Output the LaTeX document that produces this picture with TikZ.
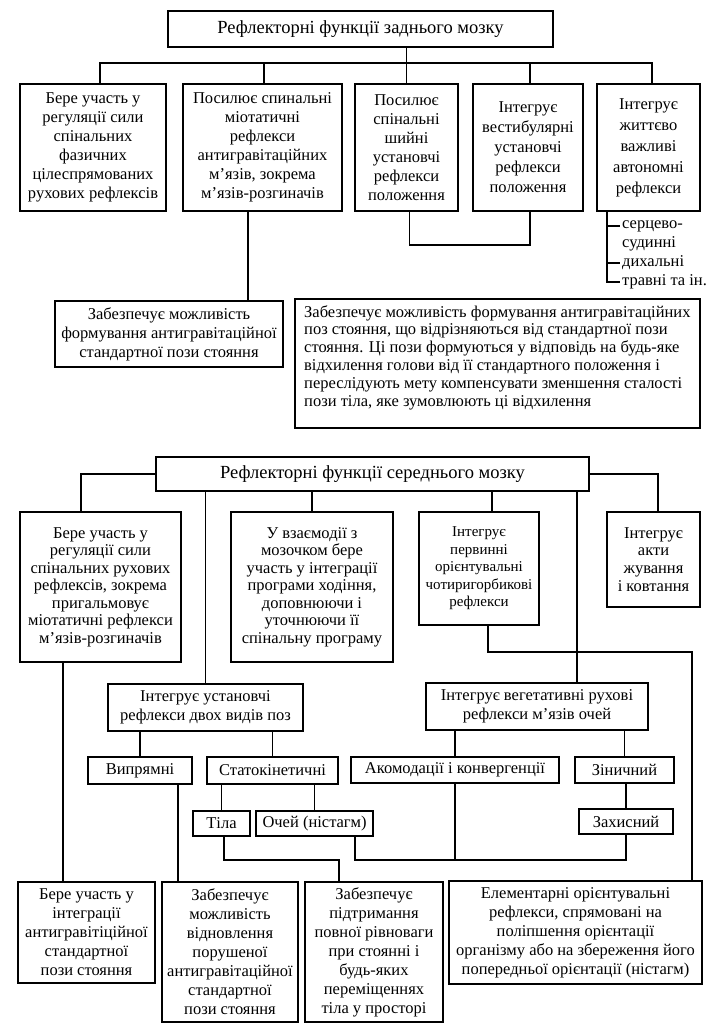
\documentclass[tikz,border=0pt]{standalone}
\usepackage{fontspec}
\setmainfont{Liberation Serif}
\newcommand\fsz{\fontsize{16.5}{19}\selectfont}
\newcommand\tsz{\fontsize{18.5}{20}\selectfont}
\tikzset{
  bx/.style={draw, line width=1.8pt, inner sep=0pt, outer sep=0pt, align=center, font=\fsz},
  ln/.style={line width=1.8pt},
  lbl/.style={inner sep=0pt, anchor=west, font=\fsz}
}
\newcommand\mkbox[7][]{\node[bx,minimum width={#5-#3},minimum height={#6-#4},#1] (#2) at ({(#3+#5)/2},{(#4+#6)/2}) {#7};}
\begin{document}
\begin{tikzpicture}[x=1pt,y=-1pt]
\useasboundingbox (0,0) rectangle (717,1036);
% ---------- top part ----------
\mkbox[font=\tsz]{T1}{168}{11}{553}{47}{Рефлекторні функції заднього мозку}
\mkbox{b1}{20}{84}{166}{211}{Бере участь у\\регуляції сили\\спінальних\\фазичних\\цілеспрямованих\\рухових рефлексів}
\mkbox{b2}{183}{84}{342}{211}{Посилює спинальні\\міотатичні\\рефлекси\\антигравітаційних\\м’язів, зокрема\\м’язів-розгиначів}
\mkbox{b3}{355}{84}{458}{211}{Посилює\\спінальні\\шийні\\установчі\\рефлекси\\положення}
\mkbox[font=\fontsize{16.5}{20}\selectfont]{b4}{473}{84}{583}{211}{Інтегрує\\вестибулярні\\установчі\\рефлекси\\положення}
\mkbox[font=\fontsize{16.5}{21}\selectfont]{b5}{597}{84}{700}{211}{Інтегрує\\життєво\\важливі\\автономні\\рефлекси}
\mkbox{b6}{55}{301}{283}{367}{Забезпечує можливість\\формування антигравітаційної\\стандартної пози стояння}
\mkbox{b7}{295}{299}{700}{428}{}
\node[inner sep=0pt, anchor=west, align=left, font=\fontsize{16.5}{17.8}\selectfont] (b7t) at (304,357.5) {Забезпечує можливість формування антигравітаційних\\поз стояння, що відрізняються від стандартної пози\\стояння. Ці пози формуються у відповідь на будь-яке\\відхилення голови від її стандартного положення і\\переслідують мету компенсувати зменшення сталості\\пози тіла, яке зумовлюють ці відхилення};
% list
\node[lbl] (l1) at (622,226) {серцево-};
\node[lbl] (l2) at (622,244) {судинні};
\node[lbl] (l3) at (622,263) {дихальні};
\node[lbl] (l4) at (622,282) {травні та ін.};
% connectors top
\draw[ln] ([xshift=7]b1.north) -- ++(0,-21) -| ([xshift=3.5]b5.north);
\draw[ln] ([xshift=1.5]b2.north) -- ++(0,-21);
\draw[ln] ([xshift=2]b4.north) -- ++(0,-21);
\draw[ln] (T1.south -| b3.north) -- (b3.north);
\draw[ln] ([xshift=3]b3.south) -- ++(0,34) -| ([xshift=2]b4.south);
\draw[ln] ([xshift=-14.5]b2.south) -- ([xshift=-14.5]b2.south |- b6.north);
\coordinate (lv) at (607,211);
\draw[ln] (lv) |- ([xshift=-2]l4.west);
\draw[ln] (lv |- l1.west) -- ([xshift=-2]l1.west);
\draw[ln] (lv |- l3.west) -- ([xshift=-2]l3.west);
% ---------- middle part ----------
\mkbox[font=\tsz]{T2}{156}{457}{589}{491}{Рефлекторні функції середнього мозку}
\mkbox[font=\fontsize{16.5}{17.5}\selectfont]{b8}{20}{512}{181}{662}{Бере участь у\\регуляції сили\\спінальних рухових\\рефлексів, зокрема\\пригальмовує\\міотатичні рефлекси\\м’язів-розгиначів}
\mkbox[font=\fontsize{16.5}{17.5}\selectfont]{b9}{231}{512}{393}{662}{У взаємодії з\\мозочком бере\\участь у інтеграції\\програми ходіння,\\доповнюючи і\\уточнюючи її\\спінальну програму}
\mkbox[font=\fontsize{15}{17.5}\selectfont]{b10}{419}{512}{539}{625}{Інтегрує\\первинні\\орієнтувальні\\чотиригорбикові\\рефлекси}
\mkbox[font=\fontsize{16.5}{17.7}\selectfont]{b11}{607}{512}{700}{607}{Інтегрує\\акти\\жування\\і ковтання}
\mkbox{b12}{108}{684}{303}{731}{Інтегрує установчі\\рефлекси двох видів поз}
\mkbox{b13}{426}{683}{648}{730}{Інтегрує вегетативні рухові\\рефлекси м’язів очей}
\mkbox{vp}{88}{757}{192}{784}{Випрямні}
\mkbox{st}{207}{757}{338}{784}{Статокінетичні}
\mkbox{tl}{193}{811}{250}{836}{Тіла}
\mkbox{oc}{256}{811}{373}{836}{Очей (ністагм)}
\mkbox{ak}{351}{757}{559}{783}{Акомодації і конвергенції}
\mkbox{zn}{575}{757}{674}{783}{Зіничний}
\mkbox{zh}{579}{809}{673}{834}{Захисний}
% ---------- bottom part ----------
\mkbox{b16}{18}{882}{155}{983}{Бере участь у\\інтеграції\\антигравітіційної\\стандартної\\пози стояння}
\mkbox{b17}{162}{882}{298}{1022}{Забезпечує\\можливість\\відновлення\\порушеної\\антигравітаційної\\стандартної\\пози стояння}
\mkbox{b18}{305}{882}{443}{1022}{Забезпечує\\підтримання\\повної рівноваги\\при стоянні і\\будь-яких\\переміщеннях\\тіла у просторі}
\mkbox{b15}{449}{881}{702}{984}{Елементарні орієнтувальні\\рефлекси, спрямовані на\\поліпшення орієнтації\\організму або на збереження його\\попередньої орієнтації (ністагм)}
% connectors middle
\draw[ln] (T2.west) -| ([xshift=-19.5]b8.north);
\draw[ln] (T2.east) -| ([xshift=4.5]b11.north);
\draw[ln] (T2.south -| b12.north) -- (b12.north);
\draw[ln] (T2.south -| b9.north) -- (b9.north);
\draw[ln] ([xshift=13]T2.south -| b10.north) -- ([xshift=13]b10.north);
\coordinate (m577) at (577,491);
\draw[ln] (m577) -- (m577 |- b13.north);
\draw[ln] ([xshift=9]b10.south) -- ++(0,27) -| ([xshift=116.5]b15.north);
\draw[ln] (b12.south -| vp.north) -- (vp.north);
\draw[ln] (b12.south -| st.north) -- (st.north);
\draw[ln] (st.south -| tl.north) -- (tl.north);
\draw[ln] (st.south -| oc.north) -- (oc.north);
\draw[ln] (b13.south -| ak.north) -- (ak.north);
\draw[ln] (b13.south -| zn.north) -- (zn.north);
\draw[ln] (zn.south -| zh.north) -- (zh.north);
% connectors bottom
\draw[ln] ([xshift=-37.5]b8.south) -- ([xshift=-37.5]b8.south |- b16.north);
\draw[ln] ([xshift=38]vp.south) -- ([xshift=38]vp.south |- b17.north);
\draw[ln] ([xshift=2.5]tl.south) -- ++(0,24) -| ([xshift=-35]b18.north);
\draw[ln] ([xshift=40.5]oc.south) -- ++(0,24) -| (zh.south);
\draw[ln] (ak.south) -- (ak.south |- 0,860);
\end{tikzpicture}
\end{document}
